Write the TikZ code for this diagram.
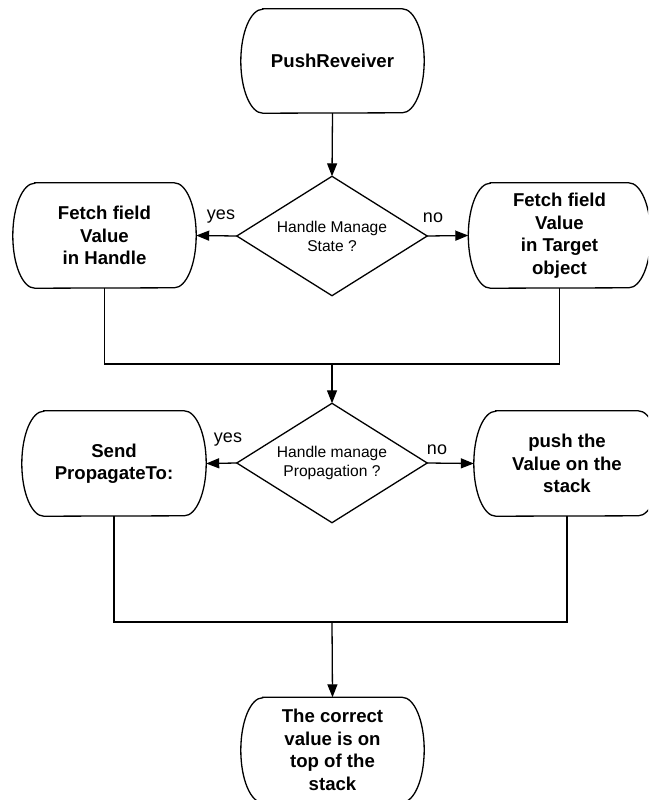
\documentclass[tikz,border=0pt]{standalone}
\usepackage{fontspec}
\setmainfont{Liberation Sans}
\usetikzlibrary{arrows.meta}
\tikzset{
  line/.style={line width=1.3pt, draw=black},
  arr/.style={line, -{Triangle[length=13pt,width=10pt]}},
  termbox/.style={draw=none, align=center, inner sep=0pt, minimum height=105pt,
    font=\fontsize{18.6}{22.5}\selectfont\bfseries},
  decbox/.style={draw=none, align=center, inner sep=0pt, minimum width=190pt, minimum height=119pt,
    font=\fontsize{15.6}{19}\selectfont},
  lbl/.style={inner sep=0pt, font=\fontsize{18}{21}\selectfont},
}
\newcommand\termshape[2]{% name, half height
  \draw[line] ([xshift=22pt]#1.north west) -- ([xshift=-22pt]#1.north east)
    arc[start angle=90,end angle=-90,x radius=22pt,y radius=#2]
    -- ([xshift=22pt]#1.south west)
    arc[start angle=270,end angle=90,x radius=22pt,y radius=#2] -- cycle;}
\newcommand\decshape[1]{%
  \draw[line, line join=miter] (#1.north) -- (#1.east) -- (#1.south) -- (#1.west) -- cycle;}
\begin{document}
\begin{tikzpicture}[x=1pt,y=-1pt]
\useasboundingbox (0,0) rectangle (648,800);
\clip (0,0) rectangle (648,800);
% nodes
\node[termbox, minimum width=183pt, minimum height=104pt] (start) at (332.5,61) {PushReveiver};
\node[decbox] (d1) at (332,236) {Handle Manage\\State ?};
\node[termbox, minimum width=183pt] (lb1) at (104.5,235.5) {Fetch field\\Value\\in Handle};
\node[termbox, minimum width=182pt] (rb1) at (559.5,235.5) {Fetch field\\Value\\in Target\\object};
\node[decbox] (d2) at (332,463) {Handle manage\\Propagation ?};
\node[termbox, minimum width=184pt] (lb2) at (114,463.5) {Send\\PropagateTo:};
\node[termbox, minimum width=186pt] (rb2) at (567,463.5) {push the\\Value on the\\stack};
\node[termbox, minimum width=183pt] (end) at (332.5,750) {The correct\\value is on\\top of the\\stack};
% shapes
\termshape{start}{52pt}
\termshape{lb1}{52.5pt}
\termshape{rb1}{52.5pt}
\termshape{lb2}{52.5pt}
\termshape{rb2}{52.5pt}
\termshape{end}{52.5pt}
\decshape{d1}
\decshape{d2}
% labels
\node[lbl] (yes1) at (221,217) {yes};
\node[lbl] (no1) at (433,218) {no};
\node[lbl] (yes2) at (228,440) {yes};
\node[lbl] (no2) at (437,450) {no};
% junctions
\coordinate (j1) at (332,364);
\coordinate (j2) at (332,622);
% connectors
\draw[arr] (start.south) -- (d1.north);
\draw[arr] (d1.west) -- (lb1.east);
\draw[arr] (d1.east) -- (rb1.west);
\draw[line] (lb1.south) |- (j1) -| (rb1.south);
\draw[arr] (j1) -- (d2.north);
\draw[arr] (d2.west) -- (lb2.east);
\draw[arr] (d2.east) -- (rb2.west);
\draw[line] (lb2.south) |- (j2) -| (rb2.south);
\draw[arr] (j2) -- (end.north);
\end{tikzpicture}
\end{document}
